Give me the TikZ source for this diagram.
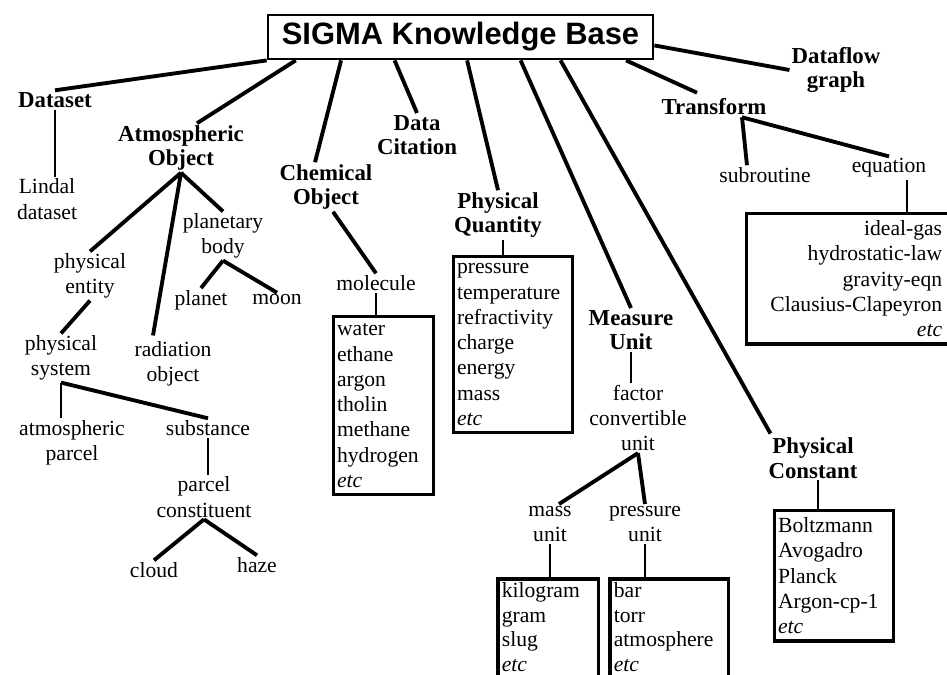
\documentclass[tikz,border=0pt]{standalone}
\usepackage{fontspec}
\setmainfont{Liberation Serif}
\newfontfamily\headfont{Liberation Sans}
\usetikzlibrary{positioning,calc}

\begin{document}
\begin{tikzpicture}[x=0.02cm,y=-0.02cm,
    every node/.style={font=\fontsize{12.3}{14.4}\selectfont, inner sep=1pt},
    headbox/.style={draw, line width=1.6pt, minimum width=7.7cm, minimum height=0.88cm,
      font=\headfont\bfseries\fontsize{17.6}{20}\selectfont},
    cat/.style={font=\fontsize{13}{14}\selectfont\bfseries, align=center},
    leaf/.style={align=center},
    listtext/.style={anchor=north west, align=left, inner xsep=2pt, inner ysep=4pt},
    listbox/.style={listtext, draw, line width=1.8pt},
    boxline/.style={line width=1.8pt},
    link/.style={line width=2.2pt},
    stem/.style={line width=1.6pt}]
  \useasboundingbox (0,0) rectangle (947,675);
  \clip (0,0) rectangle (947,675);

  \node[headbox] (kb) at (460.5,37) {SIGMA Knowledge Base};

  % main categories
  \node[cat] (dataset) at (55,100) {Dataset};
  \node[cat] (atm) at (181,148) {Atmospheric\\Object};
  \node[cat] (chem) at (326,187) {Chemical\\Object};
  \node[cat] (cite) at (417,135) {Data\\Citation};
  \node[cat] (pq) at (498,215) {Physical\\Quantity};
  \node[cat] (mu) at (631,330) {Measure\\Unit};
  \node[cat] (pc) at (813,458) {Physical\\Constant};
  \node[cat] (trans) at (714,107) {Transform};
  \node[cat] (flow) at (836,70) {Dataflow\\graph};

  % subclasses
  \node[leaf] (lindal) at (47,199) {Lindal\\dataset};
  \node[leaf] (entity) at (90,276) {physical\\entity};
  \node[leaf] (planetary) at (223,236) {planetary\\body};
  \node[leaf] (planet) at (201,300) {planet};
  \node[leaf] (moon) at (277,300) {moon};
  \node[leaf] (radiation) at (173,364) {radiation\\object};
  \node[leaf] (system) at (61,358) {physical\\system};
  \node[leaf] (atmpar) at (72,443) {atmospheric\\parcel};
  \node[leaf] (substance) at (208,428) {substance};
  \node[leaf] (constit) at (204,497) {parcel\\constituent};
  \node[leaf] (cloud) at (154,570) {cloud};
  \node[leaf] (haze) at (257,565) {haze};
  \node[leaf] (molecule) at (376,283) {molecule};
  \node[leaf] (fcu) at (638,418) {factor\\convertible\\unit};
  \node[leaf] (massu) at (550,524) {mass\\unit};
  \node[leaf] (presu) at (645,524) {pressure\\unit};
  \node[leaf] (subr) at (765,175) {subroutine};
  \node[leaf] (eqn) at (889,168) {equation};

  % instance lists
  \node[listbox, text width=1.86cm] (molbox) at (332,315)
    {water\\ethane\\argon\\tholin\\methane\\hydrogen\\\textit{etc}};
  \node[listbox, text width=2.24cm] (pqbox) at (452,255)
    {pressure\\temperature\\refractivity\\charge\\energy\\mass\\\textit{etc}};
  \node[listbox, text width=3.56cm, inner xsep=10pt, align=right] (eqbox) at (745,212)
    {ideal-gas\\hydrostatic-law\\gravity-eqn\\Clausius-Clapeyron\\\textit{etc}};
  \node[listtext, text width=1.86cm, inner ysep=2pt,
    font=\fontsize{12.3}{13.9}\selectfont] (massbox) at (498,579)
    {kilogram\\gram\\slug\\\textit{etc}};
  \node[listtext, text width=2.22cm, inner ysep=2pt,
    font=\fontsize{12.3}{13.9}\selectfont] (presbox) at (610,579)
    {bar\\torr\\atmosphere\\\textit{etc}};
  \node[listbox, text width=2.24cm] (pcbox) at (773,509)
    {Boltzmann\\Avogadro\\Planck\\Argon-cp-1\\\textit{etc}};
  % these two run off the bottom edge
  \draw[boxline] ($(massbox.south west)+(0,30)$) -- (massbox.north west)
    -- (massbox.north east) -- ($(massbox.south east)+(0,30)$);
  \draw[boxline] ($(presbox.south west)+(0,30)$) -- (presbox.north west)
    -- (presbox.north east) -- ($(presbox.south east)+(0,30)$);

  % links from the knowledge base
  \draw[link] (kb.south west) -- (dataset.north);
  \draw[link] ($(kb.south west)!.075!(kb.south east)$) -- ($(atm.north)+(16,0)$);
  \draw[link] ($(kb.south west)!.192!(kb.south east)$) -- ($(chem.north)+(-11,0)$);
  \draw[link] ($(kb.south west)!.33!(kb.south east)$) -- (cite.north);
  \draw[link] ($(kb.south west)!.517!(kb.south east)$) -- (pq.north);
  \draw[link] ($(kb.south west)!.655!(kb.south east)$) -- (mu.north);
  \draw[link] ($(kb.south west)!.758!(kb.south east)$) -- ($(pc.north west)+(4,-2)$);
  \draw[link] ($(kb.south west)!.927!(kb.south east)$) -- ($(trans.north)+(-17,-4)$);
  \draw[link] ($(kb.south east)!.32!(kb.north east)$) -- (flow.west);

  % atmospheric object
  \draw[stem] (dataset.south) -- (dataset.south |- lindal.north);
  \draw[link] (atm.south) -- (entity.north);
  \draw[link] (atm.south) -- ($(radiation.north)+(-20,-4)$);
  \draw[link] (atm.south) -- (planetary.north);
  \draw[link] (planetary.south) -- (planet.north);
  \draw[link] (planetary.south) -- (moon.north);
  \draw[link] (entity.south) -- (system.north);
  \draw[stem] (system.south) -- (system.south |- atmpar.north);
  \draw[link] (system.south) -- (substance.north);
  \draw[stem] (substance.south) -- (substance.south |- constit.north);
  \draw[link] (constit.south) -- (cloud.north);
  \draw[link] (constit.south) -- (haze.north);

  % chemical object and quantities
  \draw[link] ($(chem.south)+(7,0)$) -- (molecule.north);
  \draw[stem] (molecule.south) -- (molecule.south |- molbox.north);
  \coordinate (pq-j) at ($(pq.south)+(5,0)$);
  \draw[stem] (pq-j) -- (pq-j |- pqbox.north);

  % units
  \draw[stem] (mu.south) -- (mu.south |- fcu.north);
  \draw[link] (fcu.south) -- ($(massu.north)+(9,0)$);
  \draw[link] (fcu.south) -- (presu.north);
  \draw[stem] (massu.south) -- (massu.south |- massbox.north);
  \draw[stem] (presu.south) -- (presu.south |- presbox.north);
  \coordinate (pc-j) at ($(pc.south)+(5,0)$);
  \draw[stem] (pc-j) -- (pc-j |- pcbox.north);

  % transform
  \coordinate (tr-j) at ($(trans.south)+(28,0)$);
  \draw[link] (tr-j) -- ($(subr.north)+(-18,0)$);
  \draw[link] (tr-j) -- (eqn.north);
  \coordinate (eq-j) at ($(eqn.south)+(18,0)$);
  \draw[stem] (eq-j) -- (eq-j |- eqbox.north);
\end{tikzpicture}
\end{document}
